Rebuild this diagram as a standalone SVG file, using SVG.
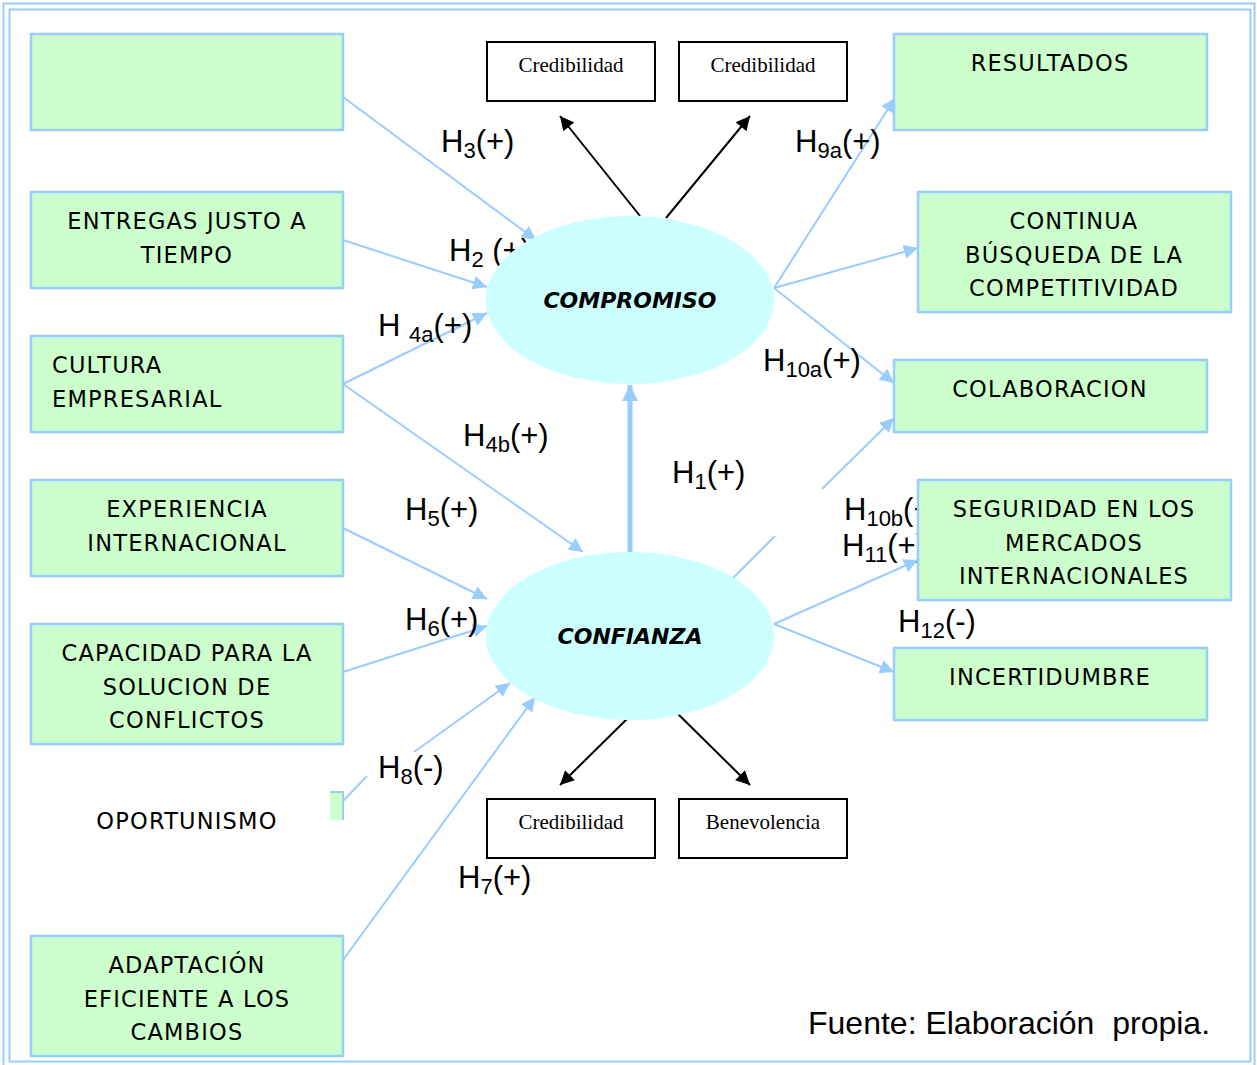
<svg xmlns="http://www.w3.org/2000/svg" width="1257" height="1065" viewBox="0 0 1257 1065">
<style>
.box{fill:#CCFFCC;stroke:#99CCFF;stroke-width:2.5}
.bx{fill:#FFFFFF;stroke:#000000;stroke-width:2}
.el{fill:#CCFFFF;stroke:none}
.c{stroke:#99CCFF;stroke-width:2;fill:none}
.k{stroke:#000000;stroke-width:2;fill:none}
.t{font-family:"DejaVu Sans","Noto Sans",sans-serif;font-size:22.5px;letter-spacing:1.2px;fill:#000;text-anchor:middle}
.tl{font-family:"DejaVu Sans","Noto Sans",sans-serif;font-size:22.5px;letter-spacing:1.2px;fill:#000}
.e{font-family:"DejaVu Sans","Noto Sans",sans-serif;font-size:22px;font-weight:bold;font-style:italic;fill:#000;text-anchor:middle}
.s{font-family:"Liberation Serif",serif;font-size:21px;fill:#000;text-anchor:middle}
.h{font-family:"Liberation Sans",Arial,sans-serif;font-size:31px;fill:#000}
.f{font-family:"Liberation Sans",Arial,sans-serif;font-size:32px;fill:#000}
.sb{font-size:22px}
</style>
<defs>
<marker id="ab" viewBox="0 0 10 10" refX="10" refY="5" markerWidth="17" markerHeight="14" markerUnits="userSpaceOnUse" orient="auto"><path d="M0,0 L10,5 L0,10 z" fill="#99CCFF"/></marker>
<marker id="abt" viewBox="0 0 10 10" refX="10" refY="5" markerWidth="17" markerHeight="16" markerUnits="userSpaceOnUse" orient="auto"><path d="M0,0 L10,5 L0,10 z" fill="#99CCFF"/></marker>
<marker id="ak" viewBox="0 0 10 10" refX="10" refY="5" markerWidth="18" markerHeight="14" markerUnits="userSpaceOnUse" orient="auto"><path d="M0,0 L10,5 L0,10 z" fill="#000"/></marker>
</defs>
<rect x="0" y="0" width="1257" height="1065" fill="#FFFFFF"/>
<rect x="3.5" y="3.5" width="1251" height="1064" fill="none" stroke="#99CCFF" stroke-width="2"/>
<rect x="9.5" y="9.5" width="1241" height="1052" fill="none" stroke="#99CCFF" stroke-width="2"/>

<g id="connectors">
<line class="c" x1="343" y1="97" x2="536" y2="240" marker-end="url(#ab)"/>
<line class="c" x1="343" y1="240" x2="487" y2="287" marker-end="url(#ab)"/>
<line class="c" x1="343" y1="384" x2="487" y2="313" marker-end="url(#ab)"/>
<line class="c" x1="343" y1="384" x2="583" y2="552" marker-end="url(#ab)"/>
<line class="c" x1="343" y1="528" x2="487" y2="599" marker-end="url(#ab)"/>
<line class="c" x1="343" y1="672" x2="487" y2="626" marker-end="url(#ab)"/>
<line class="c" x1="343" y1="801" x2="367" y2="776"/>
<line class="c" x1="414" y1="752" x2="510" y2="683" marker-end="url(#ab)"/>
<line class="c" x1="343" y1="960" x2="535" y2="697" marker-end="url(#ab)"/>
<line x1="630" y1="552" x2="630" y2="385" stroke="#99CCFF" stroke-width="5" marker-end="url(#abt)"/>
<line class="c" x1="774" y1="288" x2="895" y2="98" marker-end="url(#ab)"/>
<line class="c" x1="774" y1="288" x2="918" y2="248" marker-end="url(#ab)"/>
<line class="c" x1="774" y1="288" x2="894" y2="383" marker-end="url(#ab)"/>
<line class="c" x1="727" y1="584" x2="775" y2="536"/>
<line class="c" x1="822" y1="489" x2="894" y2="418" marker-end="url(#ab)"/>
<line class="c" x1="774" y1="624" x2="918" y2="560" marker-end="url(#ab)"/>
<line class="c" x1="774" y1="624" x2="894" y2="672" marker-end="url(#ab)"/>
<line class="k" x1="640" y1="216" x2="560" y2="116" marker-end="url(#ak)"/>
<line class="k" x1="666" y1="218" x2="750" y2="116" marker-end="url(#ak)"/>
<line class="k" x1="632" y1="714" x2="560" y2="785" marker-end="url(#ak)"/>
<line class="k" x1="678" y1="714" x2="750" y2="785" marker-end="url(#ak)"/>
</g>

<g id="labels">
<text class="h" x="441" y="152">H<tspan class="sb" dy="6">3</tspan><tspan dy="-6">(+)</tspan></text>
<text class="h" x="449" y="261" xml:space="preserve">H<tspan class="sb" dy="6">2</tspan><tspan dy="-6"> (+)</tspan></text>
<text class="h" x="378" y="336" xml:space="preserve">H <tspan class="sb" dy="6">4a</tspan><tspan dy="-6">(+)</tspan></text>
<text class="h" x="795" y="152">H<tspan class="sb" dy="6">9a</tspan><tspan dy="-6">(+)</tspan></text>
<text class="h" x="763" y="371">H<tspan class="sb" dy="6">10a</tspan><tspan dy="-6">(+)</tspan></text>
<text class="h" x="463" y="446">H<tspan class="sb" dy="6">4b</tspan><tspan dy="-6">(+)</tspan></text>
<text class="h" x="672" y="483">H<tspan class="sb" dy="6">1</tspan><tspan dy="-6">(+)</tspan></text>
<text class="h" x="405" y="520">H<tspan class="sb" dy="6">5</tspan><tspan dy="-6">(+)</tspan></text>
<text class="h" x="844" y="520">H<tspan class="sb" dy="6">10b</tspan><tspan dy="-6">(+)</tspan></text>
<text class="h" x="842" y="556">H<tspan class="sb" dy="6">11</tspan><tspan dy="-6">(+)</tspan></text>
<text class="h" x="405" y="630">H<tspan class="sb" dy="6">6</tspan><tspan dy="-6">(+)</tspan></text>
<text class="h" x="898" y="632">H<tspan class="sb" dy="6">12</tspan><tspan dy="-6">(-)</tspan></text>
<text class="h" x="378" y="778">H<tspan class="sb" dy="6">8</tspan><tspan dy="-6">(-)</tspan></text>
<text class="h" x="458" y="888">H<tspan class="sb" dy="6">7</tspan><tspan dy="-6">(+)</tspan></text>
</g>

<g id="compromiso">
<ellipse class="el" cx="630" cy="300" rx="144" ry="84"/>
<text class="e" x="630" y="308">COMPROMISO</text>
</g>
<g id="confianza">
<ellipse class="el" cx="630" cy="636" rx="144" ry="84"/>
<text class="e" x="630" y="644">CONFIANZA</text>
</g>

<g id="box-blank"><rect class="box" x="31" y="34" width="312" height="96"/></g>
<g id="entregas"><rect class="box" x="31" y="192" width="312" height="96"/>
<text class="t" x="187" y="229">ENTREGAS JUSTO A</text><text class="t" x="187" y="263">TIEMPO</text></g>
<g id="cultura"><rect class="box" x="31" y="336" width="312" height="96"/>
<text class="tl" x="52" y="373">CULTURA</text><text class="tl" x="52" y="407">EMPRESARIAL</text></g>
<g id="experiencia"><rect class="box" x="31" y="480" width="312" height="96"/>
<text class="t" x="187" y="517">EXPERIENCIA</text><text class="t" x="187" y="551">INTERNACIONAL</text></g>
<g id="capacidad"><rect class="box" x="31" y="624" width="312" height="120"/>
<text class="t" x="187" y="661">CAPACIDAD PARA LA</text><text class="t" x="187" y="695">SOLUCION DE</text><text class="t" x="187" y="728">CONFLICTOS</text></g>
<g id="oportunismo">
<rect x="330" y="792" width="13" height="28" fill="#CCFFCC"/>
<path d="M330,792 H343 V820" fill="none" stroke="#99CCFF" stroke-width="2"/>
<text class="t" x="187" y="829">OPORTUNISMO</text></g>
<g id="adaptacion"><rect class="box" x="31" y="936" width="312" height="120"/>
<text class="t" x="187" y="973">ADAPTACIÓN</text><text class="t" x="187" y="1007">EFICIENTE A LOS</text><text class="t" x="187" y="1040">CAMBIOS</text></g>

<g id="resultados"><rect class="box" x="894" y="34" width="313" height="96"/>
<text class="t" x="1050" y="71">RESULTADOS</text></g>
<g id="continua"><rect class="box" x="918" y="192" width="313" height="120"/>
<text class="t" x="1074" y="229">CONTINUA</text><text class="t" x="1074" y="263">BÚSQUEDA DE LA</text><text class="t" x="1074" y="296">COMPETITIVIDAD</text></g>
<g id="colaboracion"><rect class="box" x="894" y="360" width="313" height="72"/>
<text class="t" x="1050" y="397">COLABORACION</text></g>
<g id="seguridad"><rect class="box" x="918" y="480" width="313" height="120"/>
<text class="t" x="1074" y="517">SEGURIDAD EN LOS</text><text class="t" x="1074" y="551">MERCADOS</text><text class="t" x="1074" y="584">INTERNACIONALES</text></g>
<g id="incertidumbre"><rect class="box" x="894" y="648" width="313" height="72"/>
<text class="t" x="1050" y="685">INCERTIDUMBRE</text></g>

<g id="cred1"><rect class="bx" x="487" y="42" width="168" height="59"/><text class="s" x="571" y="72">Credibilidad</text></g>
<g id="cred2"><rect class="bx" x="679" y="42" width="168" height="59"/><text class="s" x="763" y="72">Credibilidad</text></g>
<g id="cred3"><rect class="bx" x="487" y="799" width="168" height="59"/><text class="s" x="571" y="829">Credibilidad</text></g>
<g id="benev"><rect class="bx" x="679" y="799" width="168" height="59"/><text class="s" x="763" y="829">Benevolencia</text></g>

<text class="f" x="808" y="1034" xml:space="preserve">Fuente: Elaboración  propia.</text>
</svg>
